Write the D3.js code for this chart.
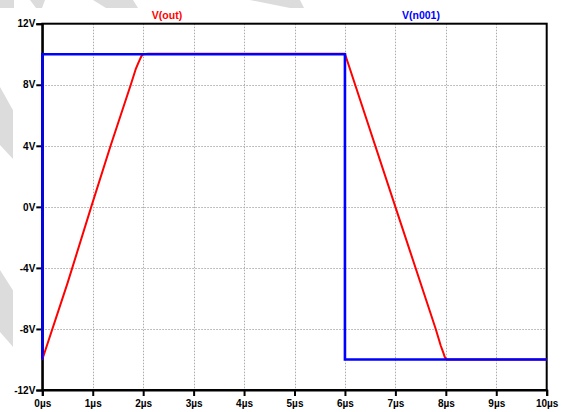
<!DOCTYPE html>
<html>
<head>
<meta charset="utf-8">
<script src="https://cdn.jsdelivr.net/npm/d3@7"></script>
<style>
  html, body { margin: 0; padding: 0; background: #ffffff; }
  svg { display: block; }
  text { font-family: "Liberation Sans", Arial, sans-serif; font-weight: bold; }
</style>
</head>
<body>
<svg id="chart" width="566" height="412"></svg>
<script>
// ---- data (time in µs, voltage in V) ----
const seriesNames = ["V(out)", "V(n001)"];
const outTime = [0, 0.5, 0.97, 1.354, 1.754, 1.85, 1.9, 1.94, 1.97, 2.0, 2.1, 6.0, 7.0, 7.8, 7.9, 7.95, 7.98, 8.02, 10];
const outVolt = [-10, -5, 0, 4, 8, 9.0, 9.4, 9.7, 9.9, 10.0, 10.03, 10.03, 0, -8, -9.1, -9.55, -9.85, -10, -10];
const n001Time = [0, 0, 6.0, 6.0, 10];
const n001Volt = [-10, 10, 10, -10, -10];
const yTicks = [-12, -8, -4, 0, 4, 8, 12];
const xTicks = [0, 1, 2, 3, 4, 5, 6, 7, 8, 9, 10];
const yTickLabels = ["-12V", "-8V", "-4V", "0V", "4V", "8V", "12V"];
const xTickLabels = ["0µs", "1µs", "2µs", "3µs", "4µs", "5µs", "6µs", "7µs", "8µs", "9µs", "10µs"];

const W = 566, H = 412;
const margin = { left: 42.3, top: 23.7, right: 19.3, bottom: 22 };
const svg = d3.select("#chart");

// background watermark stripes (decoration)
const wm = svg.append("g").attr("fill", "#dcdcdc");
[
  [[0,0],[14,0],[14,8],[0,8]],
  [[30,0],[45,0],[42,8],[36,8]],
  [[93,0],[133,0],[138,8],[106,8]],
  [[250,0],[300,0],[304,8],[290,8]],
  [[0,87],[14,112],[14,160],[0,145]],
  [[0,270],[14,292],[14,348],[0,332]]
].forEach(p => wm.append("polygon").attr("points", p.map(d => d.join(",")).join(" ")));
// white chart sheet
svg.append("rect").attr("x", 13).attr("y", 8).attr("width", W - 13).attr("height", H - 8).attr("fill", "#ffffff");

const x = d3.scaleLinear().domain([0, 10]).range([margin.left, W - margin.right]);
const y = d3.scaleLinear().domain([-12, 12]).range([H - margin.bottom, margin.top]);

// grid
const grid = svg.append("g").attr("stroke", "#ababab").attr("stroke-width", 1).attr("stroke-dasharray", "1.5,1.5");
xTicks.slice(1, -1).forEach(t => grid.append("line")
  .attr("x1", Math.round(x(t)) + 0.5).attr("x2", Math.round(x(t)) + 0.5)
  .attr("y1", y(12)).attr("y2", y(-12)));
yTicks.slice(1, -1).forEach(v => grid.append("line")
  .attr("y1", Math.round(y(v)) + 0.5).attr("y2", Math.round(y(v)) + 0.5)
  .attr("x1", x(0)).attr("x2", x(10)));

// frame
svg.append("rect").attr("x", x(0)).attr("y", y(12))
  .attr("width", x(10) - x(0)).attr("height", y(-12) - y(12))
  .attr("fill", "none").attr("stroke", "#000").attr("stroke-width", 2);

// axes
const yAxis = d3.axisLeft(y).tickValues(yTicks).tickSize(6).tickPadding(1)
  .tickFormat((d, i) => yTickLabels[i]);
const gy = svg.append("g").attr("transform", `translate(${x(0)},0)`).call(yAxis);
const xAxis = d3.axisBottom(x).tickValues(xTicks).tickSize(6).tickPadding(2)
  .tickFormat((d, i) => xTickLabels[i]);
const gx = svg.append("g").attr("transform", `translate(0,${y(-12)})`).call(xAxis);
[gx, gy].forEach(g => {
  g.select(".domain").attr("stroke", "#000").attr("stroke-width", 2);
  g.selectAll(".tick line").attr("stroke", "#000").attr("stroke-width", 2);
  g.selectAll(".tick text").attr("fill", "#000").style("font-size", "10px")
    .style("font-family", "'Liberation Sans', Arial, sans-serif").style("font-weight", "bold");
});
gx.selectAll(".tick text").attr("dy", "0.9em");

// series
const line = d3.line().x(d => x(d[0])).y(d => y(d[1]));
const outData = outTime.map((t, i) => [t, outVolt[i]]);
const n001Data = n001Time.map((t, i) => [t, n001Volt[i]]);
svg.append("path").datum(outData).attr("d", line)
  .attr("fill", "none").attr("stroke", "#ff0000").attr("stroke-width", 2).attr("stroke-linejoin", "round");
svg.append("path").datum(n001Data).attr("d", line)
  .attr("fill", "none").attr("stroke", "#0000ff").attr("stroke-width", 2.6);

// series titles
const titleColors = ["#ff0000", "#0000ff"];
const titleX = [167, 421];
seriesNames.forEach((n, i) => svg.append("text")
  .attr("x", titleX[i]).attr("y", 19).attr("text-anchor", "middle")
  .attr("fill", titleColors[i]).style("font-size", "10.5px").text(n));
</script>
</body>
</html>
